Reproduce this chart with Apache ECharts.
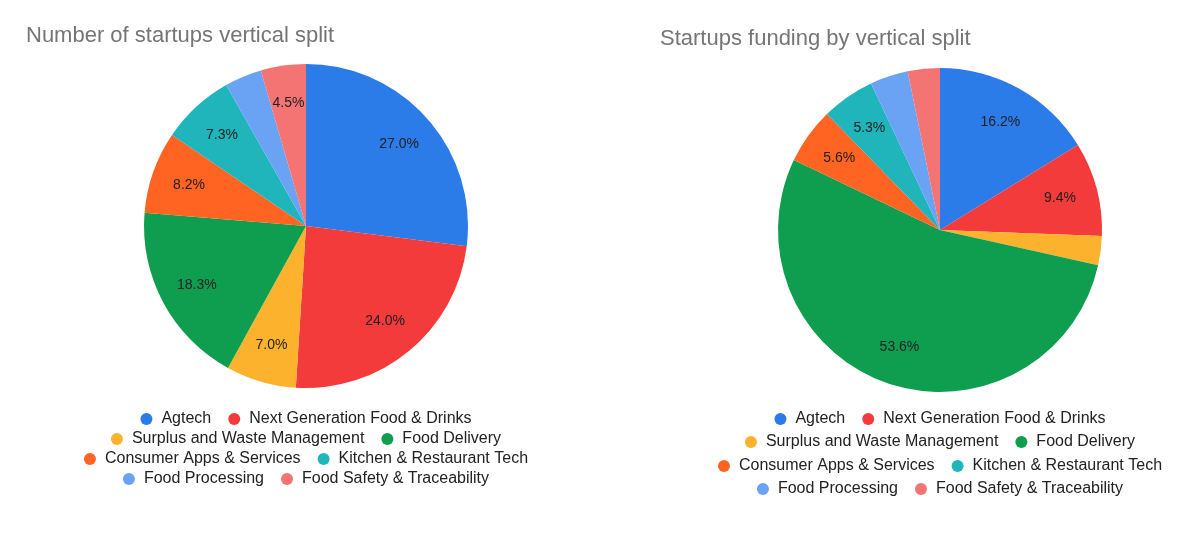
<!DOCTYPE html>
<html>
<head>
<meta charset="utf-8">
<title>Startups vertical split</title>
<script src="https://cdn.jsdelivr.net/npm/echarts@6/dist/echarts.min.js"></script>
<style>
  html, body { margin: 0; padding: 0; background: #fff; overflow: hidden; }
  #wrap { position: relative; width: 1198px; height: 534px; overflow: hidden; }
  #left { position: absolute; left: 0; top: 0; width: 612px; height: 534px; }
  #right { position: absolute; left: 640px; top: 0; width: 600px; height: 534px; }
</style>
</head>
<body>
<div id="wrap">
  <div id="left"></div>
  <div id="right"></div>
</div>
<script>
// categories, same order in both charts
var categories = [
  'Agtech',
  'Next Generation Food & Drinks',
  'Surplus and Waste Management',
  'Food Delivery',
  'Consumer Apps & Services',
  'Kitchen & Restaurant Tech',
  'Food Processing',
  'Food Safety & Traceability'
];
var colors = ['#2b7be9', '#f23b3a', '#fdb22e', '#0f9e4f', '#ff6422', '#1fb5bb', '#6aa2f4', '#f47473'];

// share in %
var countShare = [27.0, 24.0, 7.0, 18.3, 8.2, 7.3, 3.7, 4.5];
var fundingShare = [16.2, 9.4, 2.9, 53.6, 5.6, 5.3, 3.8, 3.2];

// two legend entries per row
var legendRows = [[0, 1], [2, 3], [4, 5], [6, 7]];

var font = "'Liberation Sans', Arial, sans-serif";

function buildOption(title, titleLeft, titleTop, center, values, rowTops) {
  var legends = legendRows.map(function (row, r) {
    return {
      data: row.map(function (i) { return categories[i]; }),
      left: 'center',
      top: rowTops[r],
      orient: 'horizontal',
      icon: 'circle',
      itemWidth: 12,
      itemHeight: 12,
      itemGap: 17,
      padding: 0,
      selectedMode: false,
      textStyle: { fontSize: 16, color: '#222', fontFamily: font, lineHeight: 18, padding: [0, 0, 0, 4] }
    };
  });

  var slices = values.map(function (v, i) {
    return { name: categories[i], value: v, itemStyle: { color: colors[i] } };
  });
  // invisible ring only used to put the % labels a bit further out
  var labelSlices = values.map(function (v, i) {
    return { name: categories[i], value: v, itemStyle: { color: 'rgba(0,0,0,0)' } };
  });

  return {
    animation: false,
    title: {
      text: title,
      left: titleLeft,
      top: titleTop,
      padding: 0,
      textStyle: { fontSize: 22, fontWeight: 'normal', color: '#757575', fontFamily: font }
    },
    legend: legends,
    series: [
      {
        type: 'pie',
        center: center,
        radius: [0, 162],
        startAngle: 90,
        clockwise: true,
        silent: true,
        itemStyle: { borderWidth: 0 },
        label: { show: false },
        labelLine: { show: false },
        emphasis: { disabled: true },
        data: slices
      },
      {
        type: 'pie',
        center: center,
        radius: [80, 162],
        startAngle: 90,
        clockwise: true,
        silent: true,
        z: 3,
        itemStyle: { borderWidth: 0 },
        label: {
          show: true,
          position: 'inside',
          fontSize: 14,
          color: '#222',
          fontFamily: font,
          textBorderWidth: 0,
          formatter: function (p) {
            return p.value >= 4 ? p.value.toFixed(1) + '%' : '';
          }
        },
        labelLine: { show: false },
        emphasis: { disabled: true },
        data: labelSlices
      }
    ]
  };
}

var leftChart = echarts.init(document.getElementById('left'));
leftChart.setOption(buildOption('Number of startups vertical split', 26, 25, [306, 226], countShare, [410, 430, 450, 470]));

var rightChart = echarts.init(document.getElementById('right'));
rightChart.setOption(buildOption('Startups funding by vertical split', 20, 28, [300, 230], fundingShare, [410, 433, 457, 480]));
</script>
</body>
</html>
